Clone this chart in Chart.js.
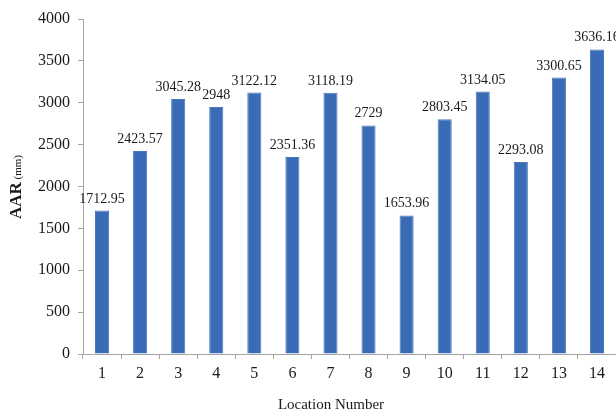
<!DOCTYPE html>
<html>
<head>
<meta charset="utf-8">
<script src="https://cdn.jsdelivr.net/npm/chart.js@4/dist/chart.umd.min.js"></script>
<style>
  html, body { margin: 0; padding: 0; background: #ffffff; }
  #wrap { width: 616px; height: 414px; position: relative; }
</style>
</head>
<body>
<div id="wrap"><canvas id="chart" width="616" height="414"></canvas></div>
<script>
// Annual average rainfall per location
const locations = ['1', '2', '3', '4', '5', '6', '7', '8', '9', '10', '11', '12', '13', '14'];
const aarValues = [1712.95, 2423.57, 3045.28, 2948, 3122.12, 2351.36, 3118.19, 2729, 1653.96, 2803.45, 3134.05, 2293.08, 3300.65, 3636.16];
const valueLabels = ['1712.95', '2423.57', '3045.28', '2948', '3122.12', '2351.36', '3118.19', '2729', '1653.96', '2803.45', '3134.05', '2293.08', '3300.65', '3636.16'];
const yTicks = [0, 500, 1000, 1500, 2000, 2500, 3000, 3500, 4000];

const SERIF = "'Liberation Serif', 'Times New Roman', serif";
const AXIS_GREY = '#a6a6a6';

// Value labels above bars plus the axis titles
const annotate = {
  id: 'annotate',
  afterDatasetsDraw(chart) {
    const ctx = chart.ctx;
    const meta = chart.getDatasetMeta(0);
    ctx.save();
    ctx.fillStyle = '#1a1a1a';
    ctx.font = '14px ' + SERIF;
    ctx.textAlign = 'center';
    ctx.textBaseline = 'alphabetic';
    meta.data.forEach((bar, i) => {
      ctx.fillText(valueLabels[i], bar.x, bar.y - 8);
    });

    // x-axis title
    ctx.font = '15px ' + SERIF;
    ctx.textBaseline = 'middle';
    ctx.fillText('Location Number', 331, 405);

    // y-axis title: "AAR" bold with smaller "(mm)"
    ctx.translate(17, 187);
    ctx.rotate(-Math.PI / 2);
    ctx.font = 'bold 17px ' + SERIF;
    const w1 = ctx.measureText('AAR').width;
    ctx.font = '11px ' + SERIF;
    const w2 = ctx.measureText(' (mm)').width;
    const start = -(w1 + w2) / 2;
    ctx.textAlign = 'left';
    ctx.textBaseline = 'middle';
    ctx.font = 'bold 17px ' + SERIF;
    ctx.fillText('AAR', start, 0);
    ctx.font = '11px ' + SERIF;
    ctx.fillText(' (mm)', start + w1, 1);
    ctx.restore();
  }
};

new Chart(document.getElementById('chart'), {
  type: 'bar',
  data: {
    labels: locations,
    datasets: [{
      data: aarValues,
      backgroundColor: '#3a6bb6',
      borderColor: '#4a78bd',
      borderWidth: 1,
      categoryPercentage: 1.0,
      barPercentage: 0.37
    }]
  },
  options: {
    responsive: false,
    animation: false,
    devicePixelRatio: 1,
    layout: { padding: { top: 19, right: 0, left: 0, bottom: 0 } },
    plugins: {
      legend: { display: false },
      tooltip: { enabled: false }
    },
    scales: {
      x: {
        grid: {
          display: true,
          drawOnChartArea: false,
          drawTicks: true,
          tickLength: 5,
          color: AXIS_GREY,
          offset: true
        },
        border: { display: true, color: AXIS_GREY, width: 1 },
        ticks: {
          color: '#1a1a1a',
          font: { family: SERIF, size: 16 },
          padding: 5,
          maxRotation: 0
        },
        afterFit(scale) { scale.height = 60; }
      },
      y: {
        min: 0,
        max: 4000,
        afterBuildTicks(scale) { scale.ticks = yTicks.map(v => ({ value: v })); },
        grid: {
          display: true,
          drawOnChartArea: false,
          drawTicks: true,
          tickLength: 5,
          color: AXIS_GREY
        },
        border: { display: true, color: AXIS_GREY, width: 1 },
        ticks: {
          color: '#1a1a1a',
          font: { family: SERIF, size: 16 },
          padding: 8,
          callback: (v) => String(v)
        },
        afterFit(scale) { scale.width = 83; }
      }
    }
  },
  plugins: [annotate]
});
</script>
</body>
</html>
